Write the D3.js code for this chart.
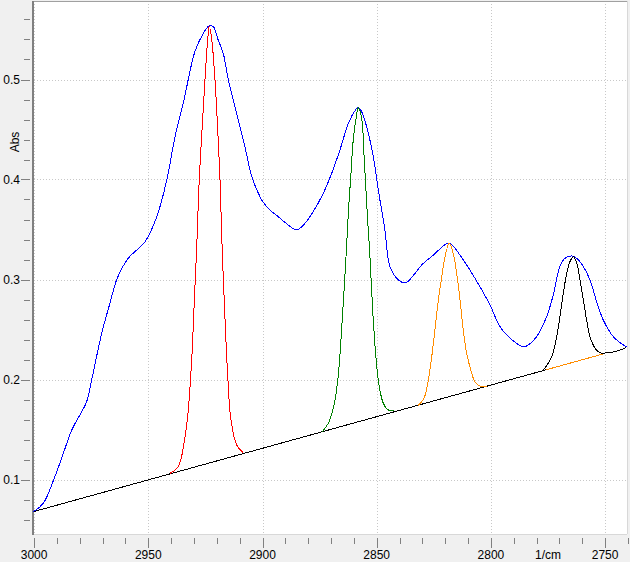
<!DOCTYPE html>
<html>
<head>
<meta charset="utf-8">
<script src="https://cdn.jsdelivr.net/npm/d3@7"></script>
<style>
  html, body { margin: 0; padding: 0; background: #f0f0f0; }
  svg { display: block; }
  text { font-family: "Liberation Sans", Arial, sans-serif; font-size: 12px; fill: #000; }
</style>
</head>
<body>
<script>
// ---------- data (wavenumber in 1/cm, absorbance) ----------
const spectrumWn = [3000.35, 2996.0, 2990.9, 2987.2, 2983.5, 2977.0, 2974.8, 2970.4, 2966.8, 2963.6, 2958.8, 2951.4, 2946.3, 2941.9, 2938.3, 2934.7, 2929.6, 2925.9, 2923.3, 2921.5, 2919.4, 2917.2, 2915.0, 2911.0, 2907.7, 2904.7, 2901.1, 2899.9, 2896.7, 2893.1, 2888.7, 2885.0, 2881.4, 2877.8, 2873.4, 2869.7, 2866.1, 2862.4, 2859.5, 2858.1, 2856.6, 2854.4, 2851.5, 2849.3, 2846.4, 2844.2, 2840.5, 2838.4, 2836.9, 2833.2, 2830.3, 2825.2, 2819.4, 2817.9, 2815.7, 2812.1, 2809.2, 2804.8, 2800.4, 2796.0, 2791.6, 2785.8, 2783.6, 2780.0, 2775.6, 2772.7, 2769.8, 2767.6, 2764.6, 2762.4, 2759.5, 2756.6, 2753.7, 2750.8, 2746.4, 2742.0, 2740.3];
const spectrumAbs = [0.0678, 0.0762, 0.1028, 0.1262, 0.1495, 0.1778, 0.1995, 0.2462, 0.2762, 0.3012, 0.3212, 0.3378, 0.3628, 0.3995, 0.4428, 0.4762, 0.5278, 0.5462, 0.5538, 0.5528, 0.5395, 0.5262, 0.5002, 0.4628, 0.4328, 0.4028, 0.3828, 0.3778, 0.3695, 0.3628, 0.3545, 0.3495, 0.3562, 0.3678, 0.3862, 0.4062, 0.4295, 0.4562, 0.4688, 0.4722, 0.4678, 0.4528, 0.4228, 0.3895, 0.3495, 0.3128, 0.2995, 0.2968, 0.2970, 0.3062, 0.3145, 0.3245, 0.3358, 0.3362, 0.3312, 0.3195, 0.3095, 0.2928, 0.2745, 0.2528, 0.2412, 0.2328, 0.2345, 0.2428, 0.2628, 0.2845, 0.3128, 0.3212, 0.3235, 0.3212, 0.3128, 0.2995, 0.2778, 0.2595, 0.2428, 0.2345, 0.2322];

const peak1Wn  = [2940.5, 2936.9, 2933.9, 2932.5, 2931.0, 2929.9, 2928.8, 2927.7, 2926.4, 2925.2, 2924.0, 2923.3, 2922.2, 2920.8, 2919.6, 2918.6, 2917.6, 2916.4, 2915.2, 2913.8, 2911.3, 2908.4];
const peak1Abs = [0.1062, 0.1128, 0.1428, 0.1695, 0.2195, 0.2762, 0.3328, 0.3995, 0.4528, 0.4995, 0.5395, 0.5538, 0.5395, 0.4995, 0.4495, 0.3995, 0.3262, 0.2595, 0.2028, 0.1595, 0.1345, 0.1268];

const peak2Wn  = [2874.0, 2871.2, 2869.0, 2867.1, 2865.8, 2864.6, 2863.4, 2862.4, 2861.4, 2860.2, 2858.8, 2858.1, 2856.6, 2855.4, 2854.1, 2852.9, 2851.8, 2850.4, 2849.0, 2847.1, 2844.9, 2842.0];
const peak2Abs = [0.1474, 0.1562, 0.1712, 0.1978, 0.2345, 0.2778, 0.3245, 0.3678, 0.4012, 0.4412, 0.4645, 0.4718, 0.4612, 0.4178, 0.3645, 0.3212, 0.2712, 0.2245, 0.1945, 0.1762, 0.1695, 0.1685];

const peak3Wn  = [2831.9, 2829.3, 2827.4, 2825.9, 2824.5, 2823.0, 2821.5, 2820.1, 2818.2, 2816.5, 2815.0, 2813.5, 2812.1, 2810.6, 2808.8, 2807.0, 2804.8, 2801.8];
const peak3Abs = [0.1739, 0.1812, 0.1995, 0.2228, 0.2495, 0.2795, 0.3028, 0.3228, 0.3362, 0.3262, 0.3062, 0.2795, 0.2495, 0.2262, 0.2095, 0.1978, 0.1935, 0.1928];

const peak4Wn  = [2777.1, 2773.4, 2771.2, 2769.8, 2768.3, 2766.8, 2765.4, 2763.9, 2762.4, 2761.0, 2759.5, 2758.1, 2756.6, 2754.4, 2752.2, 2750.0, 2744.9, 2740.9];
const peak4Abs = [0.2090, 0.2228, 0.2428, 0.2628, 0.2862, 0.3062, 0.3178, 0.3228, 0.3162, 0.2995, 0.2795, 0.2595, 0.2428, 0.2312, 0.2268, 0.2265, 0.2283, 0.2317];

const baselineWn  = [3000.35, 2776.0];
const baselineAbs = [0.0678, 0.2096];
const baseline2Wn  = [2776.0, 2750.0];
const baseline2Abs = [0.2096, 0.2261];

const xMajorTicks = [3000, 2950, 2900, 2850, 2800, 2750];
const xMinorTicks = [3000, 2990, 2980, 2970, 2960, 2950, 2940, 2930, 2920, 2910, 2900, 2890, 2880, 2870, 2860, 2850, 2840, 2830, 2820, 2810, 2800, 2790, 2780, 2770, 2760, 2750, 2740];
const xTickLabels = ["3000", "2950", "2900", "2850", "2800", "2750"];
const xUnitLabel = "1/cm";
const xUnitPos = 2775;
const yMajorTicks = [0.1, 0.2, 0.3, 0.4, 0.5];
const yMinorTicks = [0.06, 0.08, 0.10, 0.12, 0.14, 0.16, 0.18, 0.20, 0.22, 0.24, 0.26, 0.28, 0.30, 0.32, 0.34, 0.36, 0.38, 0.40, 0.42, 0.44, 0.46, 0.48, 0.50, 0.52, 0.54, 0.56];
const yTickLabels = ["0.1", "0.2", "0.3", "0.4", "0.5"];
const yAxisTitle = "Abs";

// ---------- layout ----------
const W = 630, H = 562;
const plot = { left: 32, top: 1, right: 627, bottom: 534 };

const x = d3.scaleLinear().domain([3000, 2750]).range([34.1, 605.1]);
const y = d3.scaleLinear().domain([0.5, 0.1]).range([79.5, 479.5]);

const svg = d3.select("body").append("svg").attr("width", W).attr("height", H);

svg.append("rect").attr("x", 0).attr("y", 0).attr("width", W).attr("height", H).attr("fill", "#f0f0f0");
svg.append("rect").attr("x", plot.left).attr("y", plot.top)
  .attr("width", plot.right - plot.left).attr("height", plot.bottom - plot.top)
  .attr("fill", "#fff");

svg.append("clipPath").attr("id", "clip").append("rect")
  .attr("x", plot.left + 1).attr("y", plot.top)
  .attr("width", plot.right - plot.left - 1).attr("height", plot.bottom - plot.top);

// grid
const grid = svg.append("g").attr("stroke", "#c8c8c8").attr("stroke-width", 1).attr("stroke-dasharray", "1,2");
grid.selectAll("line.v").data(xMajorTicks).join("line")
  .attr("x1", d => Math.round(x(d)) + 0.5).attr("x2", d => Math.round(x(d)) + 0.5)
  .attr("y1", plot.top).attr("y2", plot.bottom);
grid.selectAll("line.h").data(yMajorTicks).join("line")
  .attr("x1", plot.left + 2).attr("x2", plot.right)
  .attr("y1", d => Math.round(y(d)) + 0.5).attr("y2", d => Math.round(y(d)) + 0.5);

// plot border
svg.append("line").attr("x1", plot.left + 1).attr("x2", plot.right).attr("y1", plot.top + 0.5).attr("y2", plot.top + 0.5)
  .attr("stroke", "#a0a0a0");
svg.append("line").attr("x1", plot.right + 0.5).attr("x2", plot.right + 0.5).attr("y1", plot.top).attr("y2", plot.bottom)
  .attr("stroke", "#d8d8d8");
svg.append("line").attr("x1", plot.left).attr("x2", plot.right).attr("y1", plot.bottom + 0.5).attr("y2", plot.bottom + 0.5)
  .attr("stroke", "#d8d8d8");
svg.append("line").attr("x1", plot.left + 1).attr("x2", plot.left + 1).attr("y1", plot.top).attr("y2", plot.bottom + 1)
  .attr("stroke", "#808080").attr("stroke-width", 2);

// curves
const lineGen = (wn, ab) => d3.line().x((d, i) => x(wn[i])).y((d, i) => y(ab[i]))
  .curve(d3.curveCatmullRom.alpha(0.5))(wn);
const g = svg.append("g").attr("clip-path", "url(#clip)").attr("fill", "none")
  .attr("stroke-width", 1).attr("shape-rendering", "crispEdges");

g.append("path").attr("d", lineGen(baselineWn, baselineAbs)).attr("stroke", "#000");
g.append("path").attr("d", lineGen(baseline2Wn, baseline2Abs)).attr("stroke", "#ff8c00");
g.append("path").attr("d", lineGen(spectrumWn, spectrumAbs)).attr("stroke", "#0000ff");
g.append("path").attr("d", lineGen(peak1Wn, peak1Abs)).attr("stroke", "#ff0000");
g.append("path").attr("d", lineGen(peak2Wn, peak2Abs)).attr("stroke", "#008000");
g.append("path").attr("d", lineGen(peak3Wn, peak3Abs)).attr("stroke", "#ff8c00");
g.append("path").attr("d", lineGen(peak4Wn, peak4Abs)).attr("stroke", "#000");

// x axis ticks
const tickG = svg.append("g").attr("stroke", "#808080").attr("stroke-width", 1);
tickG.selectAll("line.xm").data(xMinorTicks).join("line")
  .attr("x1", d => Math.round(x(d)) + 0.5).attr("x2", d => Math.round(x(d)) + 0.5)
  .attr("y1", 538).attr("y2", d => xMajorTicks.includes(d) ? 548 : 544);
svg.append("g").selectAll("text").data(xMajorTicks).join("text")
  .attr("x", d => x(d)).attr("y", 558.5).attr("text-anchor", "middle")
  .text((d, i) => xTickLabels[i]);
svg.append("text").attr("x", x(xUnitPos)).attr("y", 558.5).attr("text-anchor", "middle").text(xUnitLabel);

// y axis ticks
tickG.selectAll("line.ym").data(yMinorTicks).join("line")
  .attr("x1", d => yMajorTicks.some(m => Math.abs(m - d) < 1e-6) ? 21 : 24).attr("x2", 30)
  .attr("y1", d => Math.round(y(d)) + 0.5).attr("y2", d => Math.round(y(d)) + 0.5);
svg.append("g").selectAll("text").data(yMajorTicks).join("text")
  .attr("x", 20).attr("y", d => y(d) + 4.3).attr("text-anchor", "end")
  .text((d, i) => yTickLabels[i]);
svg.append("text").attr("transform", "translate(18.5,142) rotate(-90)")
  .attr("text-anchor", "middle").text(yAxisTitle);
</script>
</body>
</html>
